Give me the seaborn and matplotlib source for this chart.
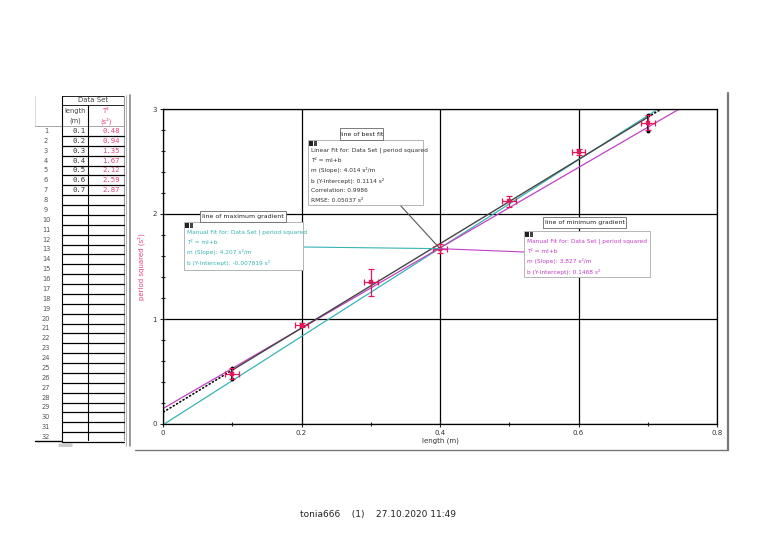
import matplotlib
matplotlib.use("Agg")
import matplotlib.pyplot as plt
import seaborn as sns
import numpy as np
import pandas as pd
from matplotlib.patches import Rectangle, ConnectionPatch, FancyBboxPatch
from matplotlib.ticker import MultipleLocator

# data
length = [0.1, 0.2, 0.3, 0.4, 0.5, 0.6, 0.7]
period_sq = [0.48, 0.94, 1.35, 1.67, 2.12, 2.59, 2.87]
length_err = [0.01, 0.01, 0.01, 0.01, 0.01, 0.01, 0.01]
period_sq_err = [0.05, 0.02, 0.13, 0.04, 0.05, 0.03, 0.07]

fit_names = ["best", "max", "min"]
fit_slopes = [4.014, 4.207, 3.827]
fit_intercepts = [0.1114, -0.007819, 0.1468]
fit_range = [0.1, 0.7]

x_ticks = [0, 0.2, 0.4, 0.6, 0.8]
y_ticks = [0, 1, 2, 3]

RED = "#e0185a"
PINK = "#e8407a"
TEAL = "#38b4b4"
MAGENTA = "#c040c4"

sns.set_style("white")
plt.rcParams["font.family"] = ["DejaVu Sans"]

W, H = 768, 543
fig = plt.figure(figsize=(W / 100, H / 100), dpi=100)
fig.patch.set_facecolor("white")

def px_axes(l, t, r, b):
    return [l / W, 1 - b / H, (r - l) / W, (b - t) / H]

ax = fig.add_axes(px_axes(163, 109, 717, 424))
df = pd.DataFrame({"length": length, "T2": period_sq})

# fit lines
xs = np.array([0, 0.8])
for name, m, b in zip(fit_names, fit_slopes, fit_intercepts):
    if name == "best":
        xin = np.array(fit_range)
        sns.lineplot(x=xin, y=m * xin + b, color="#444444", lw=1.0, ax=ax, zorder=3)
        for seg in ([0, fit_range[0]], [fit_range[1], 0.8]):
            seg = np.array(seg)
            ax.plot(seg, m * seg + b, color="black", lw=1.1, ls=(0, (1.5, 1)), zorder=3)
    else:
        sns.lineplot(x=xs, y=m * xs + b, color=TEAL if name == "max" else MAGENTA,
                     lw=0.9, ax=ax, zorder=2)

# black brackets at the ends of the fit range
for i in (0, len(length) - 1):
    lo = period_sq[i] - period_sq_err[i] * 1.1
    hi = period_sq[i] + period_sq_err[i] * 1.1
    ax.plot([length[i]] * 2, [lo, hi], color="black", lw=1.2, zorder=4)
    ax.plot([length[i]] * 2, [lo, hi], ls="none", marker="o", ms=1.8, color="black", zorder=4)

ax.errorbar(length, period_sq, xerr=length_err, yerr=period_sq_err, fmt="none",
            ecolor=RED, elinewidth=0.9, capsize=2, capthick=0.9, zorder=5)
sns.scatterplot(data=df, x="length", y="T2", marker="s", s=8, color=RED,
                edgecolor=RED, ax=ax, zorder=6)

ax.set_xlim(0, 0.8)
ax.set_ylim(0, 3)
ax.set_xticks(x_ticks)
ax.set_xticklabels([f"{v:g}" for v in x_ticks])
ax.set_yticks(y_ticks)
ax.xaxis.set_minor_locator(MultipleLocator(0.1))
ax.yaxis.set_minor_locator(MultipleLocator(0.2))
ax.grid(True, which="major", color="black", lw=0.9)
ax.tick_params(which="major", direction="inout", length=5, width=0.8,
               labelsize=5, labelcolor="#333333", pad=2, bottom=True, left=True)
ax.tick_params(which="minor", direction="inout", length=3, width=0.8, bottom=True, left=True)
for s in ax.spines.values():
    s.set_color("black")
    s.set_linewidth(0.9)
ax.set_xlabel("length (m)", fontsize=5, color="#333333", labelpad=1)
ax.set_ylabel("period squared (s²)", fontsize=5, color=PINK, labelpad=5)

# overlay in pixel coordinates
ov = fig.add_axes([0, 0, 1, 1], zorder=5)
ov.set_xlim(0, W)
ov.set_ylim(H, 0)
ov.axis("off")
ov.patch.set_alpha(0)

# graph panel frame
ov.plot([135, 728], [450, 450], color="#777777", lw=1.0)
ov.plot([728, 728], [93, 450], color="#777777", lw=1.6)

# data table
ov.add_patch(Rectangle((62, 96), 62, 9, fill=False, ec="black", lw=0.6))
ov.text(93, 100.5, "Data Set", fontsize=5, color="#444444", ha="center", va="center")
ov.text(75, 111, "length", fontsize=4.8, color="#444444", ha="center", va="center")
ov.text(75, 121, "(m)", fontsize=4.8, color="#444444", ha="center", va="center")
ov.text(106, 111, "T²", fontsize=4.8, color=PINK, ha="center", va="center")
ov.text(106, 121, "(s²)", fontsize=4.8, color=PINK, ha="center", va="center")
ov.plot([35, 35], [96, 126], color="#cccccc", lw=0.5)
ov.plot([35, 124], [126, 126], color="#999999", lw=0.6)
ov.plot([62, 62], [96, 440], color="black", lw=0.8)
ov.plot([88, 88], [105, 440], color="black", lw=0.8)
ov.plot([124, 124], [96, 440], color="#999999", lw=0.8)
ov.plot([126, 126], [95, 446], color="#aaaaaa", lw=0.6)
ov.plot([130, 130], [95, 446], color="#888888", lw=1.2)
ov.plot([35, 62], [441, 441], color="black", lw=1.0)
ov.add_patch(FancyBboxPatch((59, 444), 13, 2.5, boxstyle="round,pad=0.5",
                            fc="#cccccc", ec="none"))
row_y = np.linspace(131, 437, 32)
for i, y in enumerate(row_y):
    ov.text(46, y, str(i + 1), fontsize=4.8, color="#555555", ha="center", va="center")
    ov.plot([62, 124], [y + 5, y + 5], color="black", lw=0.9)
for i, (l, t) in enumerate(zip(length, period_sq)):
    ov.text(86, row_y[i], f"{l:.1f}", fontsize=5.2, family="DejaVu Sans Mono",
            color="#333333", ha="right", va="center")
    ov.text(120, row_y[i], f"{t:.2f}", fontsize=5.2, family="DejaVu Sans Mono",
            color=PINK, ha="right", va="center")

# annotation boxes
def fit_box(x0, y0, x1, y1, title, tbox, lines, color):
    ov.add_patch(Rectangle((x0, y0), x1 - x0, y1 - y0, fc="white", ec="#aaaaaa", lw=0.6, zorder=3))
    ov.add_patch(Rectangle((x0 + 1, y0 + 1), 3.5, 4.5, fc="#222222", ec="none", zorder=4))
    ov.add_patch(Rectangle((x0 + 5.5, y0 + 1), 3.5, 4.5, fc="#444444", ec="none", zorder=4))
    tx0, ty0, tx1, ty1 = tbox
    ov.add_patch(Rectangle((tx0, ty0), tx1 - tx0, ty1 - ty0, fc="white", ec="#666666", lw=0.6, zorder=4))
    ov.text((tx0 + tx1) / 2, (ty0 + ty1) / 2, title, fontsize=4.5, color="#222222",
            ha="center", va="center", zorder=5)
    for k, s in enumerate(lines):
        ov.text(x0 + 3, y0 + 10 + k * 10.2, s, fontsize=4.2, color=color, va="center", zorder=5)

def callout(xy, color):
    cp = ConnectionPatch(xyA=xy, coordsA=ov.transData,
                         xyB=(length[3], period_sq[3]), coordsB=ax.transData,
                         color=color, lw=0.8, zorder=2)
    ov.add_artist(cp)

callout((400, 205), "#555555")
callout((303, 247), TEAL)
callout((524, 252), MAGENTA)

fit_box(308, 140, 423, 205, "line of best fit", (340, 128, 383, 140),
        ["Linear Fit for: Data Set | period squared", "T² = ml+b",
         f"m (Slope): {fit_slopes[0]} s²/m", f"b (Y-Intercept): {fit_intercepts[0]} s²",
         "Correlation: 0.9986", "RMSE: 0.05037 s²"], "#333333")
fit_box(184, 222, 303, 270, "line of maximum gradient", (200, 211, 286, 222),
        ["Manual Fit for: Data Set | period squared", "T² = ml+b",
         f"m (Slope): {fit_slopes[1]} s²/m", f"b (Y-Intercept): {fit_intercepts[1]} s²"], TEAL)
fit_box(524, 231, 650, 277, "line of minimum gradient", (543, 217, 626, 228),
        ["Manual Fit for: Data Set | period squared", "T² = ml+b",
         f"m (Slope): {fit_slopes[2]} s²/m", f"b (Y-Intercept): {fit_intercepts[2]} s²"], MAGENTA)

ov.text(378, 515, "tonia666    (1)    27.10.2020 11:49", fontsize=6.5, color="#222222",
        ha="center", va="center")

fig.savefig("out.png", dpi=100, facecolor="white")
